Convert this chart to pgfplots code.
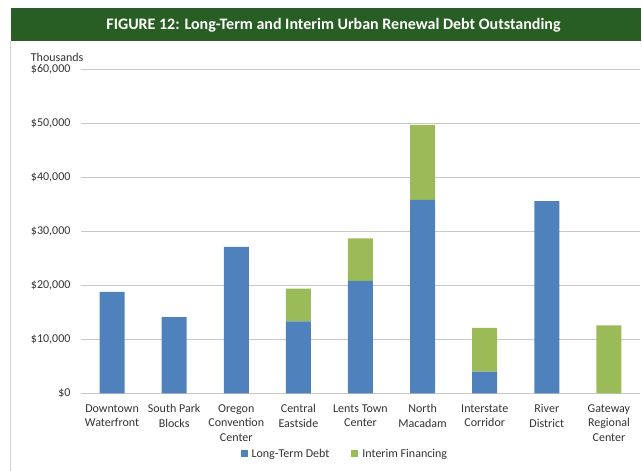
\documentclass[border=0pt]{standalone}
\usepackage{fontspec}
\setmainfont{Carlito}
\usepackage{pgfplots}
\usepackage{pgfplotstable}
\pgfplotsset{compat=1.18}
\definecolor{titlegreen}{RGB}{40,94,36}
\definecolor{ltblue}{RGB}{79,129,189}
\definecolor{intgreen}{RGB}{155,187,89}
\definecolor{gridgray}{RGB}{200,200,200}
\definecolor{txt}{RGB}{50,50,50}

\pgfplotstableread{
x lt int
0 18800 0
1 14100 0
2 27100 0
3 13300 6100
4 20800 7900
5 35800 13900
6 4000 8100
7 35600 0
8 0 12600
}\debtdata

\begin{document}
\begin{tikzpicture}
\useasboundingbox (0,0) rectangle (642bp,471bp);
\fill[titlegreen] (10.7bp,430.3bp) rectangle (641bp,462.7bp);
\draw[gray!35, line width=0.7bp] (10.7bp,0) -- (10.7bp,430.3bp);
\node[anchor=base, inner sep=0, text=white, font=\fontsize{16bp}{18bp}\selectfont\bfseries] at (333.5bp,441bp) {FIGURE 12: Long-Term and Interim Urban Renewal Debt Outstanding};
\node[anchor=base west, inner sep=0, text=txt, font=\fontsize{12bp}{14bp}\selectfont] at (30.7bp,409.5bp) {Thousands};
\begin{axis}[
  at={(81bp,77.7bp)}, anchor=south west, scale only axis,
  width=559bp, height=324bp,
  ybar stacked, bar width=25bp,
  xmin=-0.5, xmax=8.5, ymin=0, ymax=60000,
  ytick={0,10000,...,60000},
  xtick={0,...,8},
  xticklabels={{Downtown\\Waterfront},{South Park\\Blocks},{Oregon\\Convention\\Center},{Central\\Eastside},{Lents Town\\Center},{North\\Macadam},{Interstate\\Corridor},{River\\District},{Gateway\\Regional\\Center}},
  xticklabel style={align=center, anchor=north, text=txt, yshift=-7.7bp, font=\fontsize{12bp}{14.5bp}\selectfont},
  scaled y ticks=false,
  yticklabel={\$\pgfmathprintnumber{\tick}},
  yticklabel style={text=txt, xshift=-7bp, font=\fontsize{12bp}{14bp}\selectfont},
  /pgf/number format/fixed,
  /pgf/number format/1000 sep={,},
  /pgf/number format/assume math mode=true,
  axis line style={draw=none}, tick style={draw=none},
  ymajorgrids, grid style={gridgray, line width=0.75bp},
  legend style={at={(0.472,-0.187)}, anchor=center, draw=none, fill=none, legend columns=2, text=txt, font=\fontsize{12bp}{14bp}\selectfont, /tikz/every odd column/.append style={column sep=2bp}, /tikz/every even column/.append style={column sep=20bp}},
  legend image code/.code={\fill[#1] (0bp,-3.5bp) rectangle (7bp,3.5bp);},
]
\addplot[fill=ltblue, draw=none] table[x=x, y=lt] {\debtdata};
\addlegendentry{Long-Term Debt}
\addplot[fill=intgreen, draw=none] table[x=x, y=int] {\debtdata};
\addlegendentry{Interim Financing}
\end{axis}
\end{tikzpicture}
\end{document}
